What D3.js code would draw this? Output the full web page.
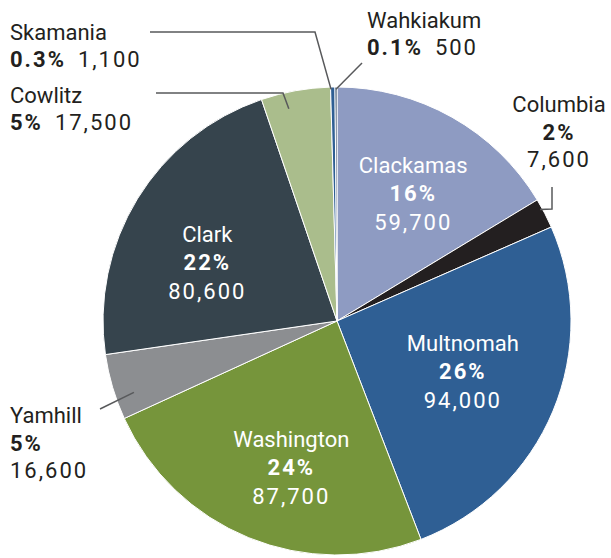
<!DOCTYPE html>
<html>
<head>
<meta charset="utf-8">
<script src="https://cdn.jsdelivr.net/npm/d3@7"></script>
<style>
  body { margin: 0; background: #fff; }
  svg { display: block; }
  text { font-family: Roboto, "Liberation Sans", sans-serif; font-size: 22px; }
  .num { letter-spacing: 2px; }
</style>
</head>
<body>
<svg id="chart" width="611" height="558"></svg>
<script>
// data, clockwise from 12 o'clock
const counties = ['Clackamas', 'Columbia', 'Multnomah', 'Washington', 'Yamhill', 'Clark', 'Cowlitz', 'Skamania', 'Wahkiakum'];
const populations = [59700, 7600, 94000, 87700, 16600, 80600, 17500, 1100, 500];
const pctLabels = ['16%', '2%', '26%', '24%', '5%', '22%', '5%', '0.3%', '0.1%'];
const insideCounties = ['Clackamas', 'Multnomah', 'Washington', 'Clark'];

const colors = ['#8e9bc2', '#231f20', '#2f5f94', '#76953b', '#8c8e91', '#36444d', '#aabd8c', '#2f5f94', '#1b3656'];

const rows = counties.map((c, i) => ({ name: c, value: populations[i], pct: pctLabels[i], color: colors[i] }));

const svg = d3.select('#chart');
const cx = 337, cy = 321, radius = 234;
const g = svg.append('g').attr('transform', `translate(${cx}, ${cy})`);

const pie = d3.pie().sort(null).value(d => d.value).startAngle(0).endAngle(2 * Math.PI);
const arcs = pie(rows);
const arc = d3.arc().innerRadius(0).outerRadius(radius);

g.selectAll('path')
  .data(arcs)
  .enter()
  .append('path')
  .attr('d', arc)
  .attr('fill', d => d.data.color)
  .attr('stroke', '#fff')
  .attr('stroke-width', 1);

const fmt = d3.format(',');

// inside labels - centroid on a label ring, small nudges per slice
const labelArc = d3.arc().innerRadius(145).outerRadius(145);
const nudge = { Clackamas: [5, -2], Multnomah: [-8, -6], Washington: [9, 12], Clark: [-6, 17] };

arcs.filter(d => insideCounties.includes(d.data.name)).forEach(d => {
  const [x, y] = labelArc.centroid(d);
  const [nx, ny] = nudge[d.data.name];
  const t = g.append('text')
    .attr('text-anchor', 'middle')
    .attr('fill', '#fff')
    .attr('transform', `translate(${x + nx}, ${y + ny})`);
  t.append('tspan').attr('x', 0).attr('y', -20).text(d.data.name);
  t.append('tspan').attr('x', 0).attr('y', 8).attr('font-weight', 'bold').attr('class', 'num').text(d.data.pct);
  t.append('tspan').attr('x', 0).attr('y', 37).attr('class', 'num').text(fmt(d.data.value));
});

// outside labels with leader lines (page coordinates)
const outside = {
  Skamania: { x: 10, y: 40, anchor: 'start', stacked: false, path: [[150, 32], [315, 32]], f: 0.1, k: 0.99 },
  Wahkiakum: { x: 367, y: 28, anchor: 'start', stacked: false, path: [[362, 63]], f: 0.5, k: 0.99 },
  Cowlitz: { x: 10, y: 103, anchor: 'start', stacked: false, path: [[156, 93], [283, 93]], f: 0.35, k: 0.93 },
  Columbia: { x: 559, y: 112, anchor: 'middle', stacked: true, path: [[552, 187], [552, 209]], f: 0.32, k: 0.99 },
  Yamhill: { x: 10, y: 423, anchor: 'start', stacked: true, path: [[100, 409]], f: 0.32, k: 0.92 }
};

const polar = (a, r) => [cx + r * Math.sin(a), cy - r * Math.cos(a)];

arcs.filter(d => outside[d.data.name]).forEach(d => {
  const o = outside[d.data.name];
  const a = d.startAngle + o.f * (d.endAngle - d.startAngle);
  const pts = o.path.concat([polar(a, radius * o.k)]);

  svg.append('path')
    .attr('d', d3.line()(pts))
    .attr('fill', 'none')
    .attr('stroke', '#58595b')
    .attr('stroke-width', 1.5);

  const t = svg.append('text')
    .attr('text-anchor', o.anchor)
    .attr('fill', '#231f20');
  t.append('tspan').attr('x', o.x).attr('y', o.y).text(d.data.name);
  if (o.stacked) {
    t.append('tspan').attr('x', o.x).attr('y', o.y + 28).attr('font-weight', 'bold').attr('class', 'num').text(d.data.pct);
    t.append('tspan').attr('x', o.x).attr('y', o.y + 55).attr('class', 'num').text(fmt(d.data.value));
  } else {
    t.append('tspan').attr('x', o.x).attr('y', o.y + 27).attr('font-weight', 'bold').attr('class', 'num').text(d.data.pct);
    t.append('tspan').attr('dx', 12).attr('class', 'num').text(fmt(d.data.value));
  }
});
</script>
</body>
</html>
